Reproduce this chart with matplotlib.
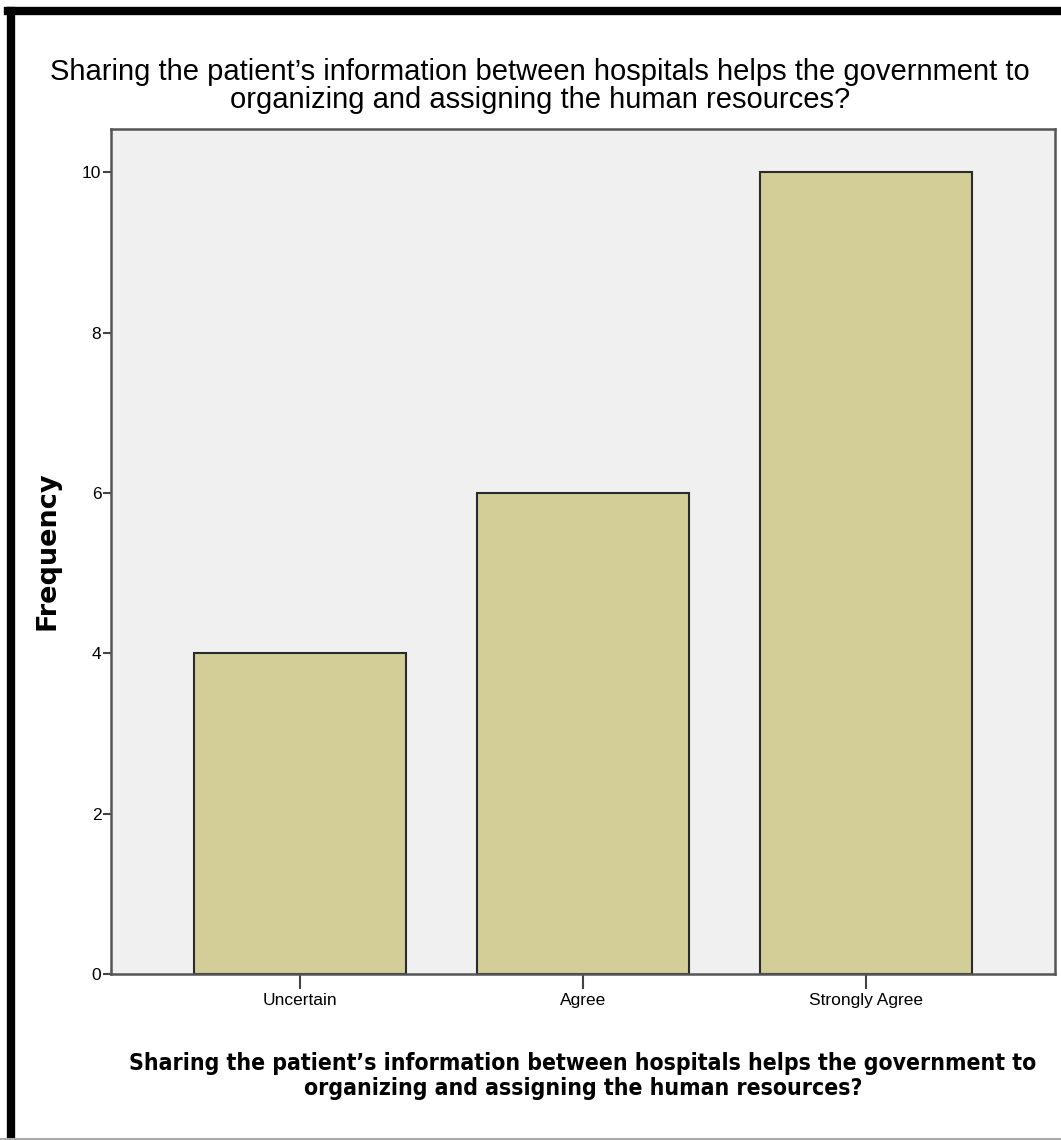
import matplotlib.pyplot as plt
from matplotlib.lines import Line2D

categories = ['Uncertain', 'Agree', 'Strongly Agree']
frequency = [4, 6, 10]
yticks = [0, 2, 4, 6, 8, 10]

question = ("Sharing the patient\u2019s information between hospitals helps the government to\n"
            "organizing and assigning the human resources?")

fig = plt.figure(figsize=(10.61, 11.40), dpi=100)
W, H = 1061, 1140
ax = fig.add_axes([111 / W, 1 - 974 / H, (1055 - 111) / W, (974 - 129) / H])
ax.set_facecolor('#f0f0f0')

x = list(range(len(categories)))
ax.bar(x, frequency, width=0.75, color='#d3ce97', edgecolor='#2b2b2b', linewidth=1.5, zorder=2)

ax.set_xlim(-0.668, 2.668)
ax.set_ylim(0, 10.54)
ax.set_yticks(yticks)
ax.set_yticklabels([str(v) for v in yticks], family='Liberation Sans', fontsize=12.5)
ax.set_xticks(x)
ax.set_xticklabels(categories, family='Liberation Sans', fontsize=12.5)
ax.tick_params(axis='y', length=6, width=1.5, color='#444444', pad=1)
ax.tick_params(axis='x', length=11, width=1.5, color='#444444', pad=3)

for side in ['left', 'bottom', 'top', 'right']:
    ax.spines[side].set_color('#555555')
    ax.spines[side].set_linewidth(1.8)

fig.text(48 / W, 1 - 551 / H, 'Frequency', rotation=90, ha='center', va='center',
         family='DejaVu Sans', fontweight='bold', fontsize=19.5)

fig.text(540 / W, 1 - 86 / H, question, ha='center', va='center', family='Liberation Sans',
         fontsize=21, linespacing=1.0)
fig.text(583 / W, 1 - 1076 / H, question, ha='center', va='center', family='DejaVu Sans',
         fontweight='bold', fontsize=16.5, linespacing=1.12, stretch='condensed')

# outer frame
fig.add_artist(Line2D([11 / W, 11 / W], [0, 1 - 11 / H], transform=fig.transFigure, color='black', linewidth=6))
fig.add_artist(Line2D([8 / W, 1], [1 - 11 / H, 1 - 11 / H], transform=fig.transFigure, color='black', linewidth=6))
fig.add_artist(Line2D([0, 1], [1.5 / H, 1.5 / H], transform=fig.transFigure, color='#aaaaaa', linewidth=1.5))

fig.savefig('out.png', dpi=100, facecolor='white')
